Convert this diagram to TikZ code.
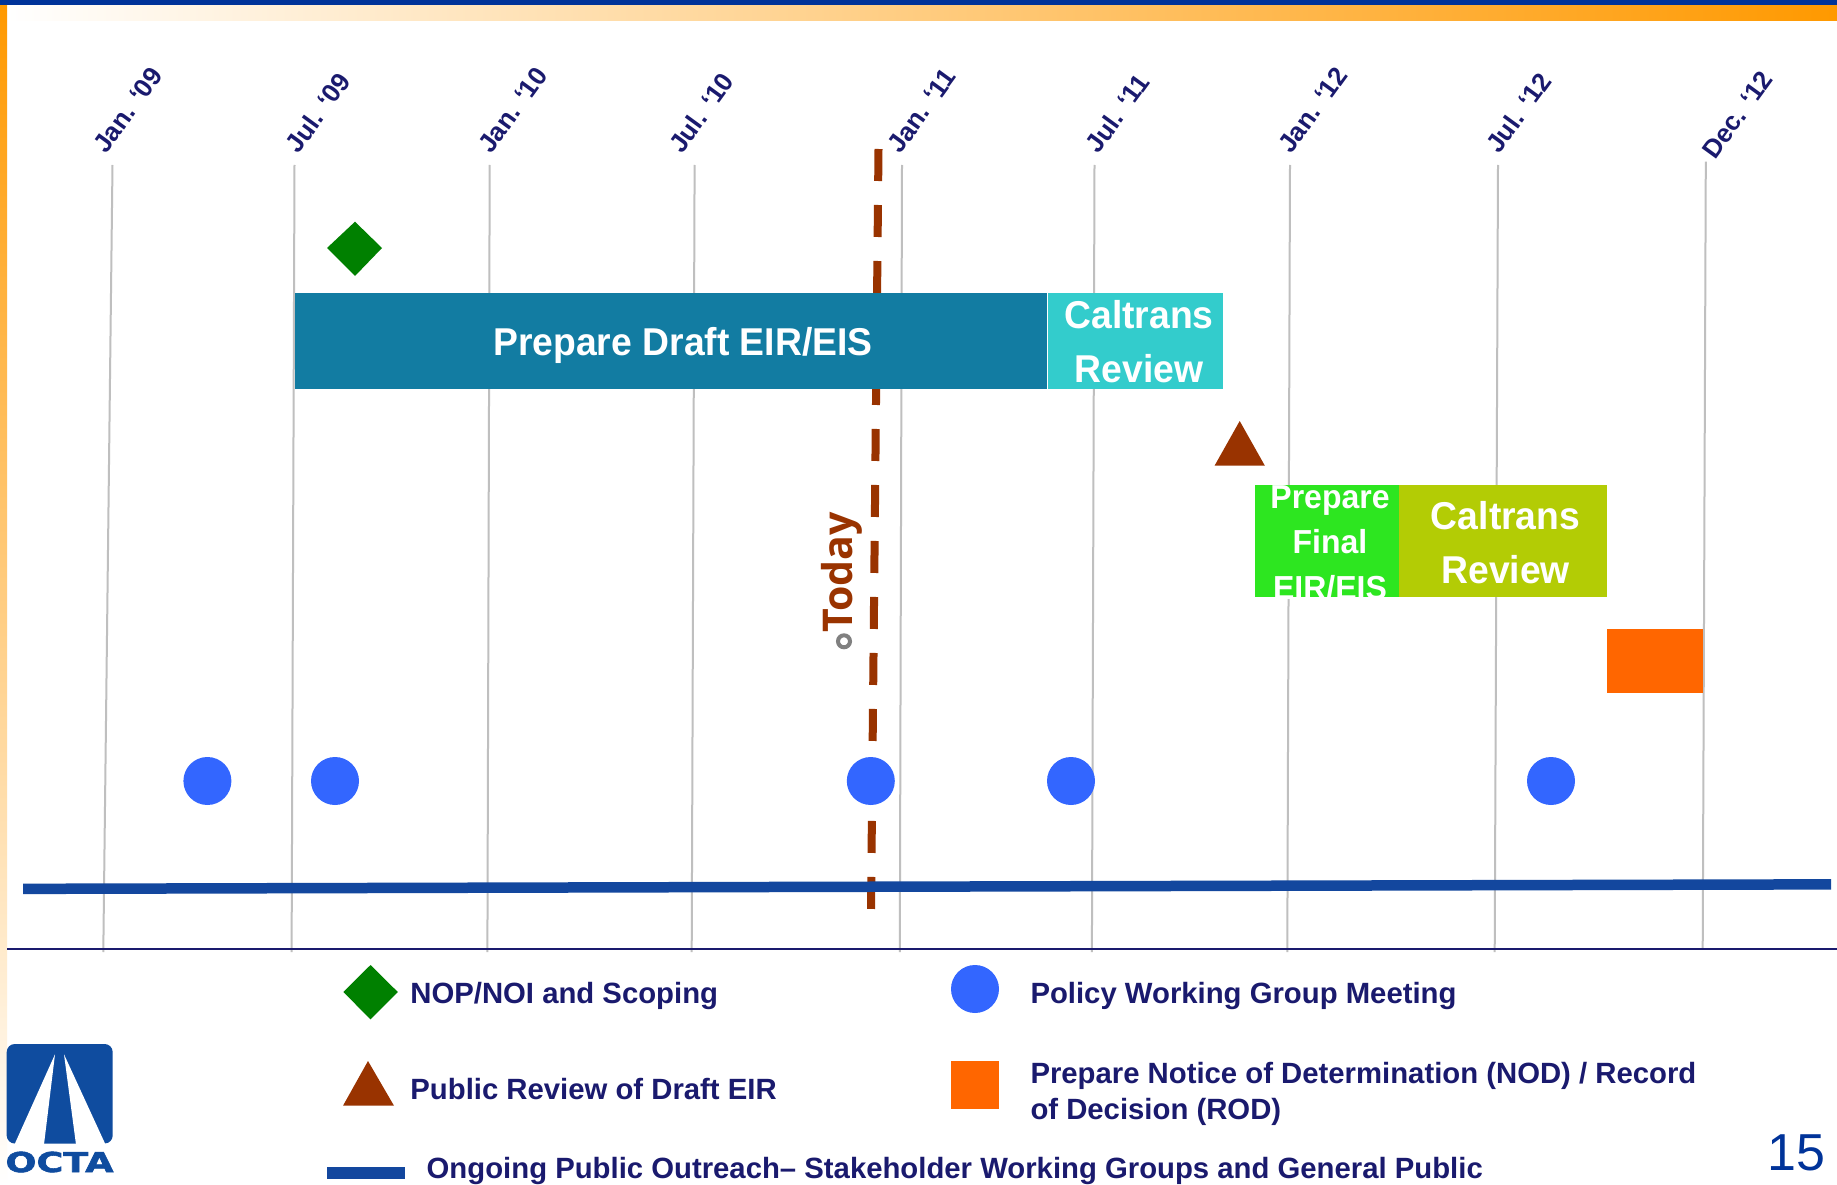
\documentclass[tikz,border=0pt]{standalone}
\usepackage{fontspec}
\setmainfont{Liberation Sans}
\newfontfamily\todayfont{Open Sans}
\newfontfamily\logofont[BoldFeatures={FakeBold=2}]{DejaVu Sans}
\usetikzlibrary{calc}
\definecolor{navytxt}{HTML}{1A1A6E}
\definecolor{topblue}{HTML}{003399}
\definecolor{orangetop}{HTML}{FF9900}
\definecolor{peach}{HTML}{FFD2B8}
\definecolor{gridgrey}{HTML}{BFBFBF}
\definecolor{tealbar}{HTML}{127CA2}
\definecolor{cyanbar}{HTML}{33CCCC}
\definecolor{greenbar}{HTML}{2DE620}
\definecolor{olivebar}{HTML}{B3CC05}
\definecolor{orangebar}{HTML}{FF6600}
\definecolor{brownm}{HTML}{993300}
\definecolor{dotblue}{HTML}{3366FF}
\definecolor{lineblue}{HTML}{13479E}
\definecolor{logoblue}{HTML}{0F4C9F}
\definecolor{diamondgreen}{HTML}{008000}
\tikzset{
  gridline/.style={draw=gridgrey,line width=2pt},
  datelabel/.style={rotate=54,anchor=base west,inner sep=0pt,text=navytxt,font=\bfseries\fontsize{26}{26}\selectfont},
  bartext/.style={inner sep=0pt,text=white,align=center,yscale=1.04,font=\bfseries\fontsize{37.3}{52}\selectfont},
  smalltext/.style={inner sep=0pt,text=white,align=center,yscale=1.04,font=\bfseries\fontsize{32}{43.8}\selectfont},
  legendtext/.style={anchor=base west,inner sep=0pt,text=navytxt,align=left,font=\bfseries\fontsize{29.3}{35.6}\selectfont},
  meetdot/.style={circle,fill=dotblue,inner sep=0pt,minimum size=48pt},
}
\begin{document}
\begin{tikzpicture}[x=1pt,y=-1pt]
\useasboundingbox (0,0) rectangle (1837,1185);
\fill[white] (0,0) rectangle (1837,1185);
% header and side bands
\shade[left color=white,middle color=peach,right color=orangetop] (7,5) rectangle (1837,20.7);
\shade[top color=orangetop,middle color=peach,bottom color=white] (0,5) rectangle (7,1185);
\fill[topblue] (0,0) rectangle (1837,5);
% grid lines
\draw[gridline] (112.5,165) -- (103.3,952);
\draw[gridline] (294.5,165) -- (291.6,952);
\draw[gridline] (489.7,165) -- (487.4,952);
\draw[gridline] (694.6,165) -- (691.7,952);
\draw[gridline] (902,165) -- (899.8,952);
\draw[gridline] (1094.5,165) -- (1091.9,952);
\draw[gridline] (1290,165) -- (1287.3,952);
\draw[gridline] (1498,165) -- (1494.7,952);
\draw[gridline] (1705.8,161.6) -- (1702.7,949);
% axis
\draw[navytxt,line width=2.2pt] (7,949) -- (1837,949);
% date labels
\node[datelabel] (d1) at (106,155) {Jan. ‘09};
\node[datelabel] (d2) at (298.5,155) {Jul. ‘09};
\node[datelabel] (d3) at (491,155) {Jan. ‘10};
\node[datelabel] (d4) at (682,155) {Jul. ‘10};
\node[datelabel] (d5) at (900.5,155) {Jan. ‘11};
\node[datelabel] (d6) at (1098.5,155) {Jul. ‘11};
\node[datelabel] (d7) at (1291,155) {Jan. ‘12};
\node[datelabel] (d8) at (1499.3,155) {Jul. ‘12};
\node[datelabel] (d9) at (1715,161) {Dec. ‘12};
% today line
\coordinate (todayA) at (878.5,149);
\coordinate (todayB) at (871,909);
\draw[brownm,line width=8pt,dash pattern=on 32pt off 24pt] (todayA) -- (todayB);
\node[rotate=90,anchor=base west,inner sep=0pt,text=brownm,font=\todayfont\bfseries\fontsize{41}{41}\selectfont] (today) at (852,633) {Today};
\draw[draw=gray,line width=4pt,fill=white] (844,641.3) circle (6pt);
% ongoing line
\fill[lineblue] (23,883.6) -- (1831,879.1) -- (1831,889.6) -- (23,894.1) -- cycle;
% bars
\fill[tealbar] (294.5,293) rectangle (1047,389);
\node[bartext] (draft) at (683,345.5) {Prepare Draft EIR/EIS};
\fill[cyanbar] (1048,293) rectangle (1223,389);
\node[bartext] (rev1) at (1139,342) {Caltrans\\Review};
\fill[greenbar] (1255.2,484.8) rectangle (1398.8,596.9);
\node[smalltext] (final) at (1330,542.5) {Prepare\\Final\\EIR/EIS};
\fill[olivebar] (1398.8,484.8) rectangle (1607,596.9);
\node[bartext] (rev2) at (1505.6,542.5) {Caltrans\\Review};
\fill[orangebar] (1607,629) rectangle (1703,693);
% milestones
\fill[diamondgreen] (355,221.7) -- (382,248) -- (355,276) -- (327,248) -- cycle;
\fill[brownm] (1239.7,421) -- (1264.8,465.6) -- (1214.6,465.6) -- cycle;
\node[meetdot] (m1) at (207.4,781) {};
\node[meetdot] (m2) at (335,781) {};
\node[meetdot] (m3) at (870.8,781) {};
\node[meetdot] (m4) at (1071,781) {};
\node[meetdot] (m5) at (1551,781) {};
% legend
\fill[diamondgreen] (370.5,965) -- (397.8,992) -- (370.5,1019.3) -- (343.3,992) -- cycle;
\node[legendtext] (l1) at (410.2,1003.7) {NOP/NOI and Scoping};
\fill[brownm] (368,1061) -- (394,1105.7) -- (343,1105.7) -- cycle;
\node[legendtext] (l2) at (410.2,1099) {Public Review of Draft EIR};
\fill[lineblue] (327,1167.3) rectangle (404.7,1179);
\node[legendtext] (l3) at (426.5,1178.7) {Ongoing Public Outreach– Stakeholder Working Groups and General Public};
\node[meetdot] (lm) at (975,989) {};
\node[legendtext] (l4) at (1030.3,1003.7) {Policy Working Group Meeting};
\fill[orangebar] (950.8,1061) rectangle (999.2,1109);
\node[legendtext] (l5) at (1030.3,1083) {Prepare Notice of Determination (NOD) / Record};
\node[legendtext] (l6) at (1030.3,1119) {of Decision (ROD)};
\node[anchor=base east,inner sep=0pt,text=topblue,font=\fontsize{52}{52}\selectfont] (page) at (1826,1170.7) {15};
% logo
\fill[logoblue,rounded corners=8pt] (6.7,1044) rectangle (112.7,1143.5);
\fill[white] (55,1054.3) -- (14.5,1144.5) -- (44,1144.5) -- cycle;
\fill[white] (64,1054.3) -- (76,1144.5) -- (105.5,1144.5) -- cycle;
\node[anchor=base,inner sep=0pt,text=logoblue,font=\logofont\bfseries\fontsize{27.4}{27.4}\selectfont,xscale=1.33] (octa) at (59.5,1172) {OCTA};
\end{tikzpicture}
\end{document}
